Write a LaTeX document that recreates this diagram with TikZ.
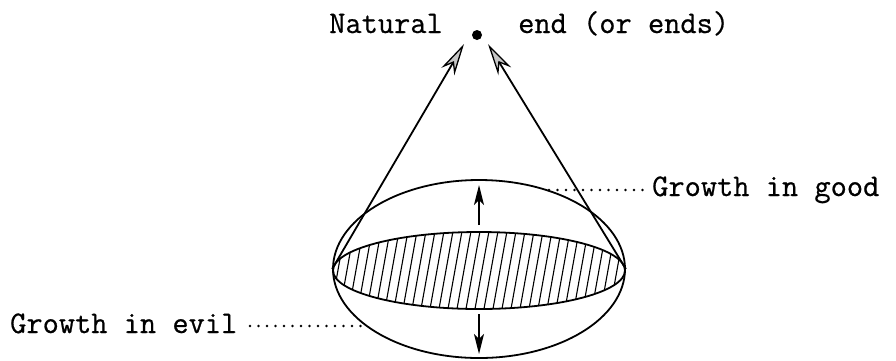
\documentclass[tikz,border=0pt]{standalone}
\usepackage{fontspec}
\newfontfamily\twfont{Latin Modern Mono}[FakeBold=0.6]
\usetikzlibrary{arrows.meta,shapes.geometric}
\begin{document}
\begin{tikzpicture}[x=1pt,y=-1pt,
  lbl/.style={inner sep=0pt,font=\twfont\fontsize{31.5}{34}\selectfont},
  ln/.style={line width=1.8pt},
  bigtip/.style={-{Stealth[length=32pt,width=15pt,inset=10pt,fill=gray!45,line width=1.3pt]}},
  smalltip/.style={-{Stealth[length=20pt,width=10pt,inset=5pt]}},
  dots/.style={line width=2.8pt,line cap=round,dash pattern=on 0pt off 8.5pt}]
\useasboundingbox (0,0) rectangle (896,360);
% labels
\node[lbl,anchor=base east] (natural) at (443,33) {Natural};
\node[lbl,anchor=base west] (ends) at (518,33) {end (or ends)};
\node[lbl,anchor=base west] (good) at (652,196) {Growth in good};
\node[lbl,anchor=base west] (evil) at (10,333) {Growth in evil};
\node[circle,fill=black,inner sep=0pt,minimum size=10pt] (dot) at (477,35) {};
% shapes
\node[ellipse,draw,ln,inner sep=0pt,minimum width=292pt,minimum height=178pt] (outer) at (479,269) {};
\begin{scope}
  \clip (479,270.5) ellipse [x radius=146, y radius=38.5];
  \foreach \i in {-30,...,36}{
    \draw[line width=1.1pt] (320+9*\i,320) -- (320+9*\i+18,220);
  }
\end{scope}
\node[ellipse,draw,ln,inner sep=0pt,minimum width=292pt,minimum height=77pt] (hatch) at (479,270.5) {};
% cone lines
\coordinate (tipL) at (464,44);
\coordinate (tipR) at (488,44);
\draw[ln,bigtip] (outer.west) -- (tipL);
\draw[ln,bigtip] (outer.east) -- (tipR);
% inner arrows
\coordinate (upS) at (479,225);
\coordinate (upT) at (479,185);
\coordinate (dnS) at (479,314);
\coordinate (dnT) at (479,354);
\draw[ln,smalltip] (upS) -- (upT);
\draw[ln,smalltip] (dnS) -- (dnT);
% dotted leaders
\coordinate (g1) at (549,190);
\coordinate (e1) at (366,326);
\draw[dots] (g1) -- (644,190);
\draw[dots] (250,326) -- (e1);
\end{tikzpicture}
\end{document}
